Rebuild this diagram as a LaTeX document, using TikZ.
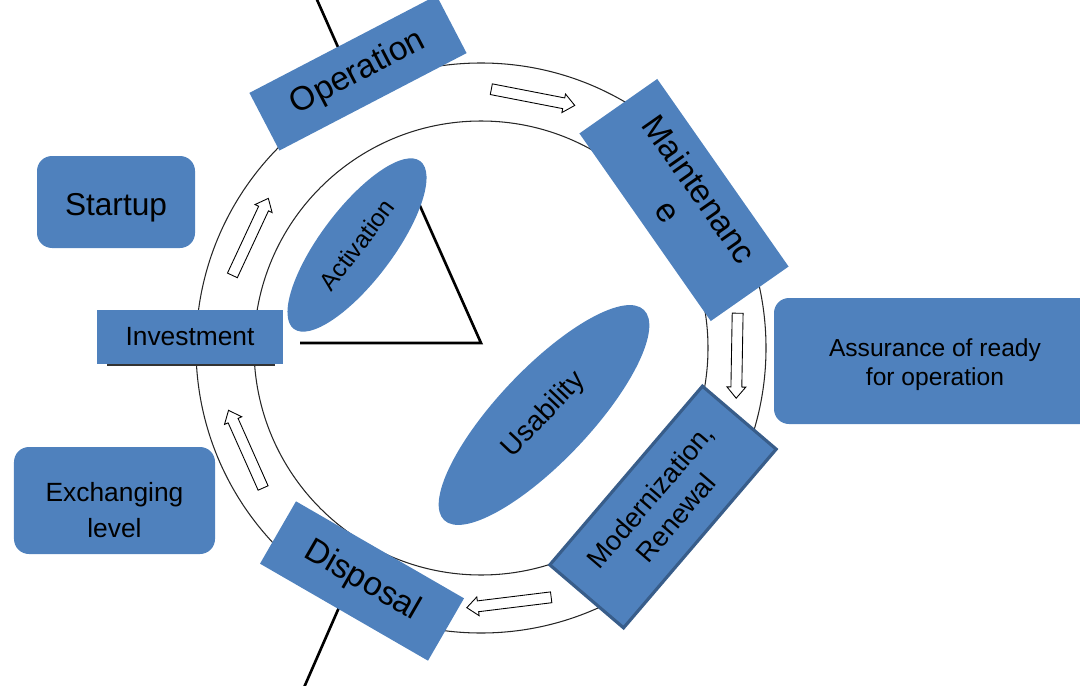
\documentclass[tikz,border=0pt]{standalone}
\usepackage{fontspec}
\setmainfont{Liberation Sans}
\usetikzlibrary{shapes.geometric,shapes.arrows}
\definecolor{boxblue}{HTML}{4F81BD}
\definecolor{edgeblue}{HTML}{385D8A}
% shifts the lines of a node down, leaving the node's size as it is
\newcommand{\lowertext}[2]{\raisebox{-#1}[\height][\depth]{\begin{tabular}{@{}c@{}}#2\end{tabular}}}

\begin{document}
\begin{tikzpicture}[
  box/.style={fill=boxblue, inner sep=0pt, align=center},
  roundbox/.style={box, rounded corners=0.3cm},
  oval/.style={ellipse, fill=boxblue, inner sep=0pt},
  ringarrow/.style={single arrow, draw=black, fill=white, line width=0.5pt,
    minimum height=1.7cm, inner xsep=0pt, inner ysep=0.1cm,
    single arrow head extend=0.08cm, single arrow tip angle=80},
  ring/.style={draw=black!85, line width=0.6pt},
  stroke/.style={line width=1.5pt}
]
\useasboundingbox (0,0) rectangle (21.6,13.7);
\clip (0,0) rectangle (21.6,13.7);
\coordinate (C) at (9.62,6.74);
% the ring and its arrows
\draw[ring] (C) circle (5.70);
\draw[ring] (C) circle (4.54);
\node[ringarrow, rotate=-11] (ARTOP) at ([shift={(79:5.12)}]C) {};
\node[ringarrow, rotate=-91] (ARRIGHT) at ([shift={(-1:5.12)}]C) {};
\node[ringarrow, rotate=-173] (ARBOT) at ([shift={(-83:5.12)}]C) {};
\node[ringarrow, rotate=114] (ARLOW) at ([shift={(204:5.12)}]C) {};
\node[ringarrow, rotate=65] (ARUP) at ([shift={(155:5.12)}]C) {};
% triangle and the two axis lines
\coordinate (TRITOP) at (8.08,10.30);
\coordinate (TRITIP) at (9.62,6.84);
\coordinate (TRIBASE) at (6.00,6.84);
\draw[stroke] (TRITOP) -- (TRITIP) -- (TRIBASE);
\coordinate (AXTOP) at (6.32,13.75);
\coordinate (AXTOPEND) at (7.14,11.90);
\coordinate (AXBOT) at (6.08,-0.05);
\coordinate (AXBOTEND) at (7.02,2.10);
\draw[stroke] (AXTOP) -- (AXTOPEND);
\draw[stroke] (AXBOT) -- (AXBOTEND);
% phases on the ring
\node[box, rotate=27.5, minimum width=4.22cm, minimum height=1.30cm,
  font=\fontsize{19}{22}\selectfont] (OPER) at (7.16,12.24) {Operation};
\node[box, rotate=-55, minimum width=4.58cm, minimum height=1.90cm,
  font=\fontsize{19}{22}\selectfont] (MAINT) at (13.68,9.70) {Maintenanc\\e};
\node[box, draw=edgeblue, line width=1.8pt, rotate=49.5, minimum width=4.70cm,
  minimum height=1.94cm, font=\fontsize{15.5}{19}\selectfont] (MODERN) at (13.26,3.56)
  {Modernization,\\Renewal};
\node[box, rotate=-30, minimum width=3.88cm, minimum height=1.44cm,
  font=\fontsize{19}{22}\selectfont] (DISP) at (7.24,2.08) {Disposal};
\draw[line width=1.2pt, black!80] (2.14,6.40) -- (5.50,6.40);
\node[box, minimum width=3.72cm, minimum height=1.08cm,
  font=\fontsize{15}{18}\selectfont] (INVEST) at (3.80,6.96) {Investment};
% inner ellipses
\node[oval, rotate=53, minimum width=4.2cm, minimum height=1.45cm,
  font=\fontsize{14}{17}\selectfont] (ACTIV) at (7.14,8.80) {Activation};
\node[oval, rotate=46.5, minimum width=5.8cm, minimum height=1.85cm,
  font=\fontsize{16}{19}\selectfont] (USAB) at (10.88,5.40) {Usability};
% outer boxes
\node[roundbox, minimum width=3.16cm, minimum height=1.84cm,
  font=\fontsize{18}{22}\selectfont] (START) at (2.32,9.66) {\lowertext{0.11cm}{Startup}};
\node[roundbox, minimum width=4.02cm, minimum height=2.14cm,
  font=\fontsize{15}{20}\selectfont] (EXCH) at (2.29,3.69) {\lowertext{0.24cm}{Exchanging\\level}};
\node[roundbox, minimum width=6.44cm, minimum height=2.52cm,
  font=\fontsize{14}{17}\selectfont] (READY) at (18.70,6.48) {\lowertext{0.08cm}{Assurance of ready\\for operation}};
\end{tikzpicture}
\end{document}
